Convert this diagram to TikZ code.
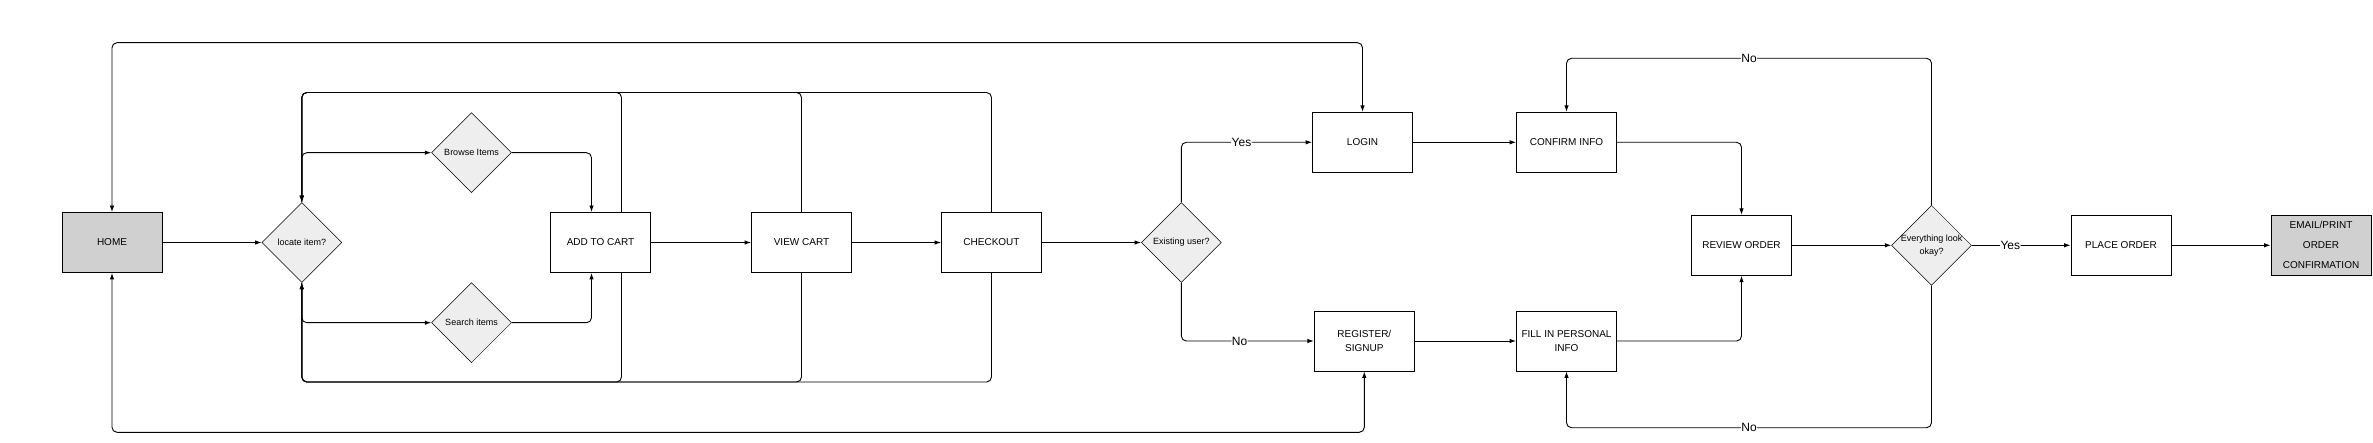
\documentclass[tikz,border=0pt]{standalone}
\usepackage{fontspec}
\setmainfont{Liberation Sans}
\usetikzlibrary{shapes.geometric,arrows.meta}
\definecolor{boxgray}{RGB}{208,208,208}
\definecolor{decgray}{RGB}{238,238,238}
\begin{document}
\begin{tikzpicture}[x=1pt,y=-1pt,
  stepbox/.style={draw,line width=0.9pt,minimum width=100pt,minimum height=60pt,inner sep=2pt,align=center,font=\fontsize{10}{14}\selectfont},
  endbox/.style={stepbox,fill=boxgray},
  decision/.style={diamond,draw,line width=0.5pt,fill=decgray,minimum width=80pt,minimum height=80pt,inner sep=0pt,align=center,font=\fontsize{9}{13.7}\selectfont},
  conn/.style={line width=0.9pt,rounded corners=5pt,-{Latex[length=6.5pt,width=4.5pt]}},
  conntwo/.style={line width=0.9pt,rounded corners=5pt,{Latex[length=6.5pt,width=4.5pt]}-{Latex[length=6.5pt,width=4.5pt]}},
  lbl/.style={fill=white,inner sep=0.5pt,font=\fontsize{12}{14}\selectfont}
]
\useasboundingbox (0,0) rectangle (2373,443);

% nodes
\node[endbox] (home) at (112,242.5) {HOME};
\node[decision] (locate) at (301.8,242.5) {locate item?};
\node[decision] (browse) at (471.5,152.7) {Browse Items};
\node[decision] (search) at (471.5,322.7) {Search items};
\node[stepbox] (addcart) at (600.5,242.5) {ADD TO CART};
\node[stepbox] (viewcart) at (801.5,242.5) {VIEW CART};
\node[stepbox] (checkout) at (991.5,242.5) {CHECKOUT};
\node[decision] (existing) at (1181.3,242.5) {Existing user?};
\node[stepbox] (login) at (1362.5,142.3) {LOGIN};
\node[stepbox] (register) at (1364.3,341) {REGISTER/\\SIGNUP};
\node[stepbox] (confirm) at (1566.5,142.3) {CONFIRM INFO};
\node[stepbox] (fill) at (1566.5,341) {FILL IN PERSONAL\\INFO};
\node[stepbox] (review) at (1741.5,245.3) {REVIEW ORDER};
\node[decision] (every) at (1931.5,245.3) {\makebox[0pt][c]{\begin{tabular}{@{}c@{}}Everything look\\okay?\end{tabular}}};
\node[stepbox] (place) at (2121,245.3) {PLACE ORDER};
\node[endbox,font=\fontsize{10}{20}\selectfont] (email) at (2321,245.3) {EMAIL/PRINT\\ORDER\\CONFIRMATION};

% helper coordinates
\coordinate (otop) at (112,42.7);
\coordinate (obot) at (112,432.3);
\coordinate (itop) at (301.8,92.5);
\coordinate (ibot) at (301.8,382);
\coordinate (ntop) at (1931.5,58.3);
\coordinate (nbot) at (1931.5,427.7);

% outer loops
\draw[conntwo] (home.north) -- (otop) -| (login.north);
\draw[conntwo] (home.south) -- (obot) -| (register.south);

% inner loops back to locate
\draw[conn] ([xshift=21pt]addcart.north) |- (itop) -- (locate.north);
\draw[conn] ([xshift=21pt]addcart.south) |- (ibot) -- (locate.south);
\draw[conn] (viewcart.north) |- (itop) -- (locate.north);
\draw[conn] (viewcart.south) |- (ibot) -- (locate.south);
\draw[conn] (checkout.north) |- (itop) -- (locate.north);
\draw[conn] (checkout.south) |- (ibot) -- (locate.south);

% main flow
\draw[conn] (home) -- (locate);
\draw[conn] (locate.north) |- (browse.west);
\draw[conn] (browse.east) -| ([xshift=-9pt]addcart.north);
\draw[conn] (locate.south) |- (search.west);
\draw[conn] (search.east) -| ([xshift=-9pt]addcart.south);
\draw[conn] (addcart) -- (viewcart);
\draw[conn] (viewcart) -- (checkout);
\draw[conn] (checkout) -- (existing);
\draw[conn] (existing.north) |- node[lbl,pos=0.73]{Yes} (login.west);
\draw[conn] (existing.south) |- node[lbl,pos=0.72]{No} (register.west);
\draw[conn] (login) -- (confirm);
\draw[conn] (register) -- (fill);
\draw[conn] (confirm.east) -| (review.north);
\draw[conn] (fill.east) -| (review.south);
\draw[conn] (review) -- (every);
\draw[conn] (every.north) -- (ntop) -| node[lbl,pos=0.25]{No} (confirm.north);
\draw[conn] (every.south) -- (nbot) -| node[lbl,pos=0.25]{No} (fill.south);
\draw[conn] (every) -- node[lbl,pos=0.39]{Yes} (place);
\draw[conn] (place) -- (email);
\end{tikzpicture}
\end{document}
